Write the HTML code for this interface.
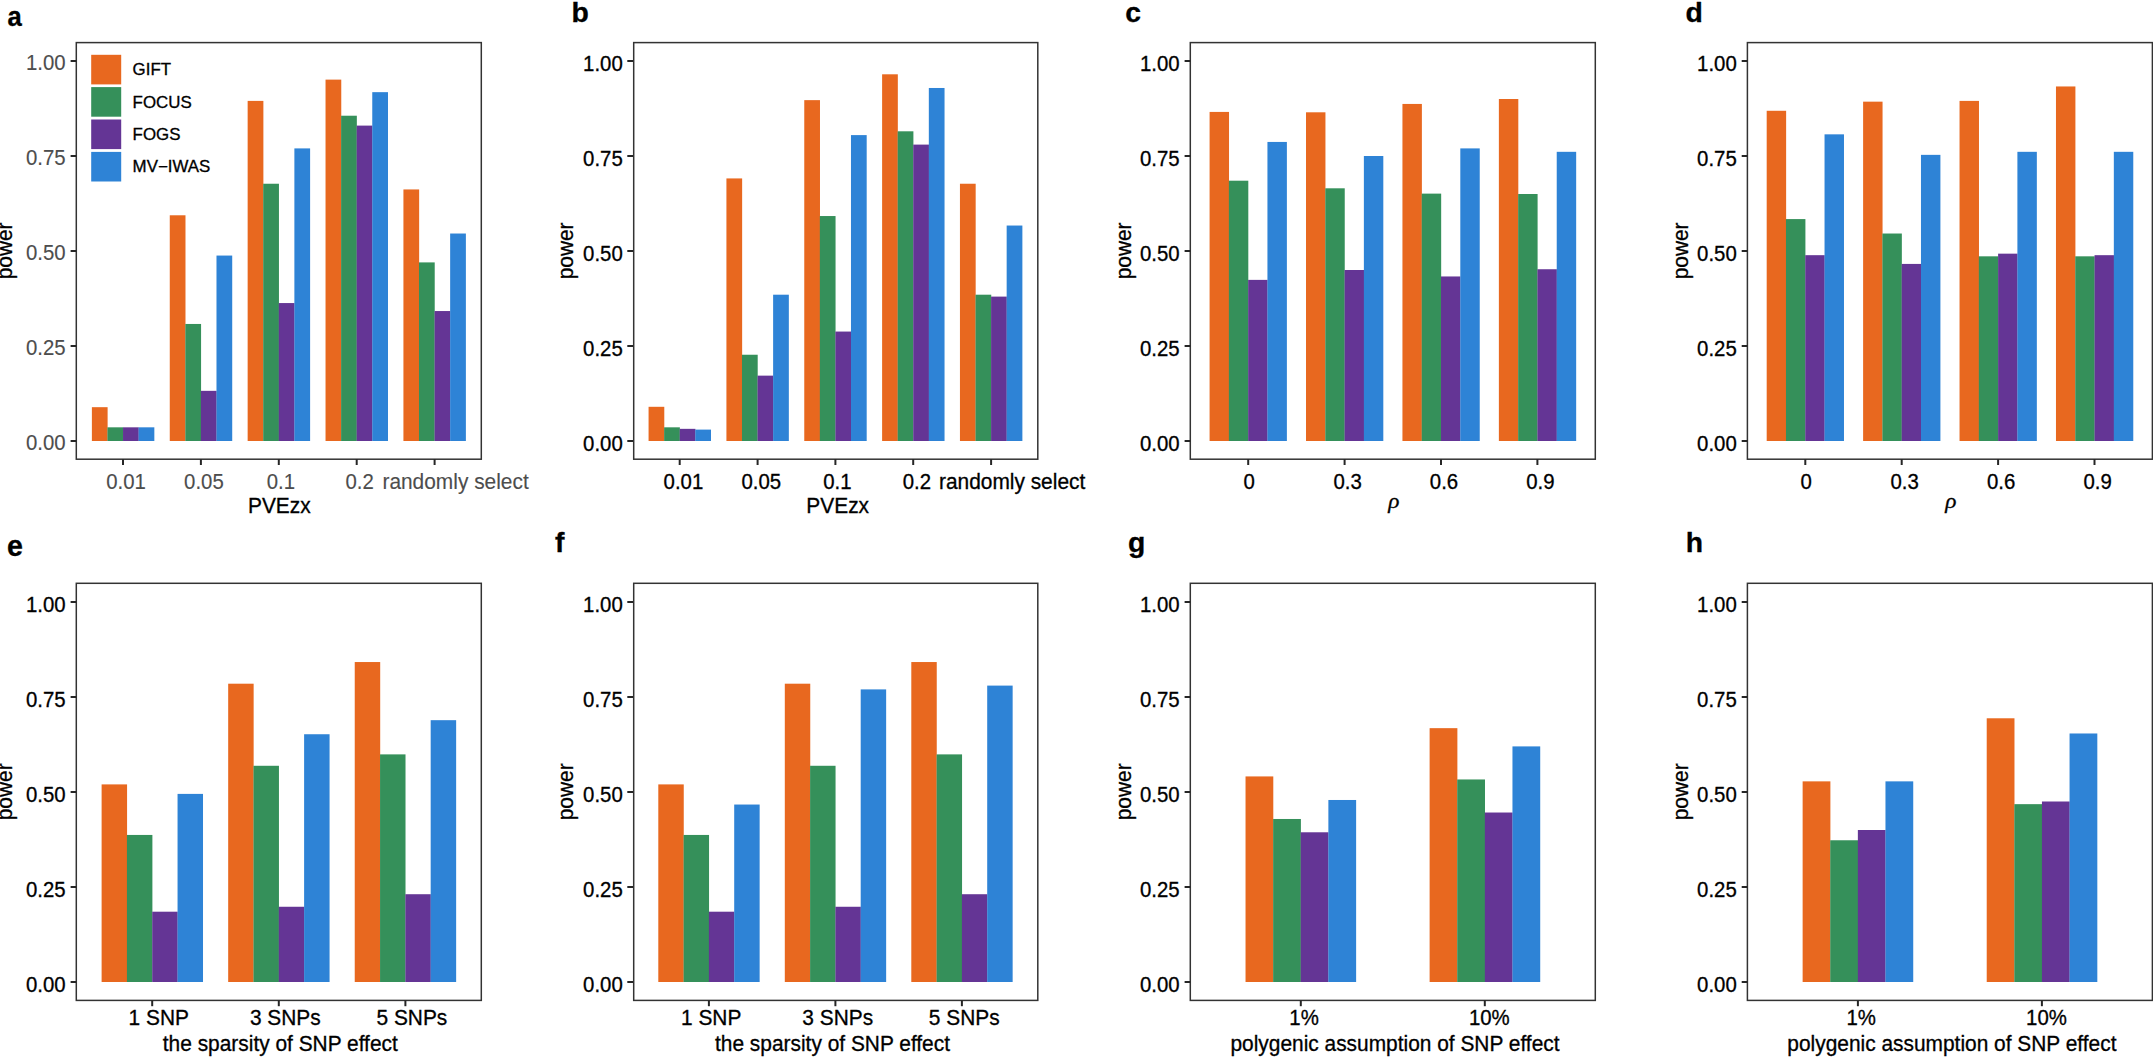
<!DOCTYPE html>
<html lang="en"><head><meta charset="utf-8"><title>Power comparison</title>
<style>html,body{margin:0;padding:0;background:#fff}svg{display:block}</style></head>
<body>
<svg width="2153" height="1057" viewBox="0 0 2153 1057" font-family="'Liberation Sans', sans-serif">
<rect width="2153" height="1057" fill="#fff"/>
<g id="panel-a">
<rect x="91.88" y="407.18" width="15.73" height="33.82" fill="#E8681F"/>
<rect x="107.45" y="427.32" width="15.73" height="13.68" fill="#35905A"/>
<rect x="123.03" y="427.32" width="15.73" height="13.68" fill="#643595"/>
<rect x="138.61" y="427.32" width="15.73" height="13.68" fill="#2E83D6"/>
<rect x="169.76" y="215.28" width="15.73" height="225.72" fill="#E8681F"/>
<rect x="185.34" y="323.96" width="15.73" height="117.04" fill="#35905A"/>
<rect x="200.92" y="390.84" width="15.73" height="50.16" fill="#643595"/>
<rect x="216.49" y="255.56" width="15.73" height="185.44" fill="#2E83D6"/>
<rect x="247.65" y="100.90" width="15.73" height="340.10" fill="#E8681F"/>
<rect x="263.22" y="183.74" width="15.73" height="257.26" fill="#35905A"/>
<rect x="278.80" y="303.06" width="15.73" height="137.94" fill="#643595"/>
<rect x="294.38" y="148.40" width="15.73" height="292.60" fill="#2E83D6"/>
<rect x="325.53" y="79.62" width="15.73" height="361.38" fill="#E8681F"/>
<rect x="341.11" y="115.72" width="15.73" height="325.28" fill="#35905A"/>
<rect x="356.68" y="125.60" width="15.73" height="315.40" fill="#643595"/>
<rect x="372.26" y="92.16" width="15.73" height="348.84" fill="#2E83D6"/>
<rect x="403.42" y="189.44" width="15.73" height="251.56" fill="#E8681F"/>
<rect x="418.99" y="262.40" width="15.73" height="178.60" fill="#35905A"/>
<rect x="434.57" y="311.04" width="15.73" height="129.96" fill="#643595"/>
<rect x="450.15" y="233.52" width="15.73" height="207.48" fill="#2E83D6"/>
<rect x="76.3" y="42.6" width="405.0" height="416.6" fill="none" stroke="#333" stroke-width="1.5"/>
<line x1="70.6" x2="76.3" y1="441.0" y2="441.0" stroke="#262626" stroke-width="2"/>
<text transform="translate(65.70,450.10) scale(0.9530,1.0000)" font-size="21.4" text-anchor="end" fill="#4d4d4d" stroke="#4d4d4d" stroke-width="0.12">0.00</text>
<line x1="70.6" x2="76.3" y1="346.0" y2="346.0" stroke="#262626" stroke-width="2"/>
<text transform="translate(65.70,355.10) scale(0.9530,1.0000)" font-size="21.4" text-anchor="end" fill="#4d4d4d" stroke="#4d4d4d" stroke-width="0.12">0.25</text>
<line x1="70.6" x2="76.3" y1="251.0" y2="251.0" stroke="#262626" stroke-width="2"/>
<text transform="translate(65.70,260.10) scale(0.9530,1.0000)" font-size="21.4" text-anchor="end" fill="#4d4d4d" stroke="#4d4d4d" stroke-width="0.12">0.50</text>
<line x1="70.6" x2="76.3" y1="156.0" y2="156.0" stroke="#262626" stroke-width="2"/>
<text transform="translate(65.70,165.10) scale(0.9530,1.0000)" font-size="21.4" text-anchor="end" fill="#4d4d4d" stroke="#4d4d4d" stroke-width="0.12">0.75</text>
<line x1="70.6" x2="76.3" y1="61.0" y2="61.0" stroke="#262626" stroke-width="2"/>
<text transform="translate(65.70,70.10) scale(0.9530,1.0000)" font-size="21.4" text-anchor="end" fill="#4d4d4d" stroke="#4d4d4d" stroke-width="0.12">1.00</text>
<line x1="123.0" x2="123.0" y1="459.2" y2="465.0" stroke="#262626" stroke-width="2"/>
<text transform="translate(126.03,489.10) scale(0.9530,1.0000)" font-size="21.4" text-anchor="middle" fill="#4d4d4d" stroke="#4d4d4d" stroke-width="0.12">0.01</text>
<line x1="200.9" x2="200.9" y1="459.2" y2="465.0" stroke="#262626" stroke-width="2"/>
<text transform="translate(203.92,489.10) scale(0.9530,1.0000)" font-size="21.4" text-anchor="middle" fill="#4d4d4d" stroke="#4d4d4d" stroke-width="0.12">0.05</text>
<line x1="278.8" x2="278.8" y1="459.2" y2="465.0" stroke="#262626" stroke-width="2"/>
<text transform="translate(280.80,489.10) scale(0.9530,1.0000)" font-size="21.4" text-anchor="middle" fill="#4d4d4d" stroke="#4d4d4d" stroke-width="0.12">0.1</text>
<line x1="356.7" x2="356.7" y1="459.2" y2="465.0" stroke="#262626" stroke-width="2"/>
<text transform="translate(359.68,489.10) scale(0.9530,1.0000)" font-size="21.4" text-anchor="middle" fill="#4d4d4d" stroke="#4d4d4d" stroke-width="0.12">0.2</text>
<line x1="434.6" x2="434.6" y1="459.2" y2="465.0" stroke="#262626" stroke-width="2"/>
<text transform="translate(455.57,489.10) scale(0.9770,1.0000)" font-size="21.4" text-anchor="middle" fill="#4d4d4d" stroke="#4d4d4d" stroke-width="0.12">randomly select</text>
<text transform="translate(279.30,512.60) scale(0.9770,1.0000)" font-size="21.4" text-anchor="middle" fill="#000" stroke="#000" stroke-width="0.3">PVEzx</text>
<text transform="translate(12.10,250.90) rotate(-90) scale(0.9770,1.0000)" font-size="21.4" text-anchor="middle" fill="#000" stroke="#000" stroke-width="0.3">power</text>
<text transform="translate(7.40,26.00) scale(0.9500,1.0300)" font-size="27" text-anchor="start" fill="#000" stroke="#000" stroke-width="0.3" font-weight="bold">a</text>
</g>
<g id="panel-b">
<rect x="648.57" y="406.80" width="15.72" height="34.20" fill="#E8681F"/>
<rect x="664.14" y="427.32" width="15.72" height="13.68" fill="#35905A"/>
<rect x="679.71" y="428.84" width="15.72" height="12.16" fill="#643595"/>
<rect x="695.28" y="429.60" width="15.72" height="11.40" fill="#2E83D6"/>
<rect x="726.42" y="178.42" width="15.72" height="262.58" fill="#E8681F"/>
<rect x="741.98" y="354.74" width="15.72" height="86.26" fill="#35905A"/>
<rect x="757.55" y="375.64" width="15.72" height="65.36" fill="#643595"/>
<rect x="773.12" y="294.70" width="15.72" height="146.30" fill="#2E83D6"/>
<rect x="804.26" y="100.14" width="15.72" height="340.86" fill="#E8681F"/>
<rect x="819.83" y="216.04" width="15.72" height="224.96" fill="#35905A"/>
<rect x="835.40" y="331.56" width="15.72" height="109.44" fill="#643595"/>
<rect x="850.97" y="135.10" width="15.72" height="305.90" fill="#2E83D6"/>
<rect x="882.11" y="74.30" width="15.72" height="366.70" fill="#E8681F"/>
<rect x="897.68" y="131.30" width="15.72" height="309.70" fill="#35905A"/>
<rect x="913.25" y="144.60" width="15.72" height="296.40" fill="#643595"/>
<rect x="928.82" y="87.98" width="15.72" height="353.02" fill="#2E83D6"/>
<rect x="959.95" y="183.74" width="15.72" height="257.26" fill="#E8681F"/>
<rect x="975.52" y="294.70" width="15.72" height="146.30" fill="#35905A"/>
<rect x="991.09" y="296.60" width="15.72" height="144.40" fill="#643595"/>
<rect x="1006.66" y="225.54" width="15.72" height="215.46" fill="#2E83D6"/>
<rect x="633.7" y="42.6" width="404.1" height="416.6" fill="none" stroke="#333" stroke-width="1.5"/>
<line x1="627.3" x2="633.0" y1="441.0" y2="441.0" stroke="#262626" stroke-width="2"/>
<text transform="translate(622.80,450.50) scale(0.9530,1.0000)" font-size="21.4" text-anchor="end" fill="#000" stroke="#000" stroke-width="0.3">0.00</text>
<line x1="627.3" x2="633.0" y1="346.0" y2="346.0" stroke="#262626" stroke-width="2"/>
<text transform="translate(622.80,355.50) scale(0.9530,1.0000)" font-size="21.4" text-anchor="end" fill="#000" stroke="#000" stroke-width="0.3">0.25</text>
<line x1="627.3" x2="633.0" y1="251.0" y2="251.0" stroke="#262626" stroke-width="2"/>
<text transform="translate(622.80,260.50) scale(0.9530,1.0000)" font-size="21.4" text-anchor="end" fill="#000" stroke="#000" stroke-width="0.3">0.50</text>
<line x1="627.3" x2="633.0" y1="156.0" y2="156.0" stroke="#262626" stroke-width="2"/>
<text transform="translate(622.80,165.50) scale(0.9530,1.0000)" font-size="21.4" text-anchor="end" fill="#000" stroke="#000" stroke-width="0.3">0.75</text>
<line x1="627.3" x2="633.0" y1="61.0" y2="61.0" stroke="#262626" stroke-width="2"/>
<text transform="translate(622.80,70.50) scale(0.9530,1.0000)" font-size="21.4" text-anchor="end" fill="#000" stroke="#000" stroke-width="0.3">1.00</text>
<line x1="679.7" x2="679.7" y1="459.2" y2="465.0" stroke="#262626" stroke-width="2"/>
<text transform="translate(683.41,489.10) scale(0.9530,1.0000)" font-size="21.4" text-anchor="middle" fill="#000" stroke="#000" stroke-width="0.3">0.01</text>
<line x1="757.6" x2="757.6" y1="459.2" y2="465.0" stroke="#262626" stroke-width="2"/>
<text transform="translate(761.25,489.10) scale(0.9530,1.0000)" font-size="21.4" text-anchor="middle" fill="#000" stroke="#000" stroke-width="0.3">0.05</text>
<line x1="835.4" x2="835.4" y1="459.2" y2="465.0" stroke="#262626" stroke-width="2"/>
<text transform="translate(837.40,489.10) scale(0.9530,1.0000)" font-size="21.4" text-anchor="middle" fill="#000" stroke="#000" stroke-width="0.3">0.1</text>
<line x1="913.2" x2="913.2" y1="459.2" y2="465.0" stroke="#262626" stroke-width="2"/>
<text transform="translate(916.95,489.10) scale(0.9530,1.0000)" font-size="21.4" text-anchor="middle" fill="#000" stroke="#000" stroke-width="0.3">0.2</text>
<line x1="991.1" x2="991.1" y1="459.2" y2="465.0" stroke="#262626" stroke-width="2"/>
<text transform="translate(1012.09,489.10) scale(0.9770,1.0000)" font-size="21.4" text-anchor="middle" fill="#000" stroke="#000" stroke-width="0.3">randomly select</text>
<text transform="translate(837.70,513.30) scale(0.9770,1.0000)" font-size="21.4" text-anchor="middle" fill="#000" stroke="#000" stroke-width="0.3">PVEzx</text>
<text transform="translate(573.10,250.90) rotate(-90) scale(0.9770,1.0000)" font-size="21.4" text-anchor="middle" fill="#000" stroke="#000" stroke-width="0.3">power</text>
<text transform="translate(571.50,21.70) scale(1.0500,1.0400)" font-size="27" text-anchor="start" fill="#000" stroke="#000" stroke-width="0.3" font-weight="bold">b</text>
</g>
<g id="panel-c">
<rect x="1209.59" y="111.92" width="19.44" height="329.08" fill="#E8681F"/>
<rect x="1228.87" y="180.70" width="19.44" height="260.30" fill="#35905A"/>
<rect x="1248.16" y="279.88" width="19.44" height="161.12" fill="#643595"/>
<rect x="1267.44" y="141.94" width="19.44" height="299.06" fill="#2E83D6"/>
<rect x="1306.01" y="112.30" width="19.44" height="328.70" fill="#E8681F"/>
<rect x="1325.30" y="188.30" width="19.44" height="252.70" fill="#35905A"/>
<rect x="1344.59" y="270.00" width="19.44" height="171.00" fill="#643595"/>
<rect x="1363.87" y="156.00" width="19.44" height="285.00" fill="#2E83D6"/>
<rect x="1402.44" y="103.94" width="19.44" height="337.06" fill="#E8681F"/>
<rect x="1421.73" y="193.62" width="19.44" height="247.38" fill="#35905A"/>
<rect x="1441.01" y="276.46" width="19.44" height="164.54" fill="#643595"/>
<rect x="1460.30" y="148.40" width="19.44" height="292.60" fill="#2E83D6"/>
<rect x="1498.87" y="99.00" width="19.44" height="342.00" fill="#E8681F"/>
<rect x="1518.16" y="194.00" width="19.44" height="247.00" fill="#35905A"/>
<rect x="1537.44" y="269.24" width="19.44" height="171.76" fill="#643595"/>
<rect x="1556.73" y="151.82" width="19.44" height="289.18" fill="#2E83D6"/>
<rect x="1190.3" y="42.6" width="405.0" height="416.6" fill="none" stroke="#333" stroke-width="1.5"/>
<line x1="1184.6" x2="1190.3" y1="441.0" y2="441.0" stroke="#262626" stroke-width="2"/>
<text transform="translate(1179.70,450.50) scale(0.9530,1.0000)" font-size="21.4" text-anchor="end" fill="#000" stroke="#000" stroke-width="0.3">0.00</text>
<line x1="1184.6" x2="1190.3" y1="346.0" y2="346.0" stroke="#262626" stroke-width="2"/>
<text transform="translate(1179.70,355.50) scale(0.9530,1.0000)" font-size="21.4" text-anchor="end" fill="#000" stroke="#000" stroke-width="0.3">0.25</text>
<line x1="1184.6" x2="1190.3" y1="251.0" y2="251.0" stroke="#262626" stroke-width="2"/>
<text transform="translate(1179.70,260.50) scale(0.9530,1.0000)" font-size="21.4" text-anchor="end" fill="#000" stroke="#000" stroke-width="0.3">0.50</text>
<line x1="1184.6" x2="1190.3" y1="156.0" y2="156.0" stroke="#262626" stroke-width="2"/>
<text transform="translate(1179.70,165.50) scale(0.9530,1.0000)" font-size="21.4" text-anchor="end" fill="#000" stroke="#000" stroke-width="0.3">0.75</text>
<line x1="1184.6" x2="1190.3" y1="61.0" y2="61.0" stroke="#262626" stroke-width="2"/>
<text transform="translate(1179.70,70.50) scale(0.9530,1.0000)" font-size="21.4" text-anchor="end" fill="#000" stroke="#000" stroke-width="0.3">1.00</text>
<line x1="1248.2" x2="1248.2" y1="459.2" y2="465.0" stroke="#262626" stroke-width="2"/>
<text transform="translate(1249.16,489.10) scale(0.9530,1.0000)" font-size="21.4" text-anchor="middle" fill="#000" stroke="#000" stroke-width="0.3">0</text>
<line x1="1344.6" x2="1344.6" y1="459.2" y2="465.0" stroke="#262626" stroke-width="2"/>
<text transform="translate(1347.59,489.10) scale(0.9530,1.0000)" font-size="21.4" text-anchor="middle" fill="#000" stroke="#000" stroke-width="0.3">0.3</text>
<line x1="1441.0" x2="1441.0" y1="459.2" y2="465.0" stroke="#262626" stroke-width="2"/>
<text transform="translate(1444.01,489.10) scale(0.9530,1.0000)" font-size="21.4" text-anchor="middle" fill="#000" stroke="#000" stroke-width="0.3">0.6</text>
<line x1="1537.4" x2="1537.4" y1="459.2" y2="465.0" stroke="#262626" stroke-width="2"/>
<text transform="translate(1540.44,489.10) scale(0.9530,1.0000)" font-size="21.4" text-anchor="middle" fill="#000" stroke="#000" stroke-width="0.3">0.9</text>
<text transform="translate(1393.80,508.30) scale(1.0900,0.9770)" font-size="21.4" text-anchor="middle" fill="#000" stroke="#000" stroke-width="0.3" font-style="italic" font-family="'Liberation Serif', serif">ρ</text>
<text transform="translate(1131.10,250.90) rotate(-90) scale(0.9770,1.0000)" font-size="21.4" text-anchor="middle" fill="#000" stroke="#000" stroke-width="0.3">power</text>
<text transform="translate(1125.30,21.70) scale(1.0500,1.0400)" font-size="27" text-anchor="start" fill="#000" stroke="#000" stroke-width="0.3" font-weight="bold">c</text>
</g>
<g id="panel-d">
<rect x="1766.69" y="110.78" width="19.44" height="330.22" fill="#E8681F"/>
<rect x="1785.97" y="219.08" width="19.44" height="221.92" fill="#35905A"/>
<rect x="1805.26" y="255.18" width="19.44" height="185.82" fill="#643595"/>
<rect x="1824.54" y="134.34" width="19.44" height="306.66" fill="#2E83D6"/>
<rect x="1863.11" y="101.66" width="19.44" height="339.34" fill="#E8681F"/>
<rect x="1882.40" y="233.52" width="19.44" height="207.48" fill="#35905A"/>
<rect x="1901.69" y="263.92" width="19.44" height="177.08" fill="#643595"/>
<rect x="1920.97" y="154.86" width="19.44" height="286.14" fill="#2E83D6"/>
<rect x="1959.54" y="100.90" width="19.44" height="340.10" fill="#E8681F"/>
<rect x="1978.83" y="256.32" width="19.44" height="184.68" fill="#35905A"/>
<rect x="1998.11" y="253.66" width="19.44" height="187.34" fill="#643595"/>
<rect x="2017.40" y="151.82" width="19.44" height="289.18" fill="#2E83D6"/>
<rect x="2055.97" y="86.46" width="19.44" height="354.54" fill="#E8681F"/>
<rect x="2075.26" y="256.32" width="19.44" height="184.68" fill="#35905A"/>
<rect x="2094.54" y="255.18" width="19.44" height="185.82" fill="#643595"/>
<rect x="2113.83" y="151.82" width="19.44" height="289.18" fill="#2E83D6"/>
<rect x="1747.4" y="42.6" width="405.0" height="416.6" fill="none" stroke="#333" stroke-width="1.5"/>
<line x1="1741.7" x2="1747.4" y1="441.0" y2="441.0" stroke="#262626" stroke-width="2"/>
<text transform="translate(1736.80,450.50) scale(0.9530,1.0000)" font-size="21.4" text-anchor="end" fill="#000" stroke="#000" stroke-width="0.3">0.00</text>
<line x1="1741.7" x2="1747.4" y1="346.0" y2="346.0" stroke="#262626" stroke-width="2"/>
<text transform="translate(1736.80,355.50) scale(0.9530,1.0000)" font-size="21.4" text-anchor="end" fill="#000" stroke="#000" stroke-width="0.3">0.25</text>
<line x1="1741.7" x2="1747.4" y1="251.0" y2="251.0" stroke="#262626" stroke-width="2"/>
<text transform="translate(1736.80,260.50) scale(0.9530,1.0000)" font-size="21.4" text-anchor="end" fill="#000" stroke="#000" stroke-width="0.3">0.50</text>
<line x1="1741.7" x2="1747.4" y1="156.0" y2="156.0" stroke="#262626" stroke-width="2"/>
<text transform="translate(1736.80,165.50) scale(0.9530,1.0000)" font-size="21.4" text-anchor="end" fill="#000" stroke="#000" stroke-width="0.3">0.75</text>
<line x1="1741.7" x2="1747.4" y1="61.0" y2="61.0" stroke="#262626" stroke-width="2"/>
<text transform="translate(1736.80,70.50) scale(0.9530,1.0000)" font-size="21.4" text-anchor="end" fill="#000" stroke="#000" stroke-width="0.3">1.00</text>
<line x1="1805.3" x2="1805.3" y1="459.2" y2="465.0" stroke="#262626" stroke-width="2"/>
<text transform="translate(1806.26,489.10) scale(0.9530,1.0000)" font-size="21.4" text-anchor="middle" fill="#000" stroke="#000" stroke-width="0.3">0</text>
<line x1="1901.7" x2="1901.7" y1="459.2" y2="465.0" stroke="#262626" stroke-width="2"/>
<text transform="translate(1904.69,489.10) scale(0.9530,1.0000)" font-size="21.4" text-anchor="middle" fill="#000" stroke="#000" stroke-width="0.3">0.3</text>
<line x1="1998.1" x2="1998.1" y1="459.2" y2="465.0" stroke="#262626" stroke-width="2"/>
<text transform="translate(2001.11,489.10) scale(0.9530,1.0000)" font-size="21.4" text-anchor="middle" fill="#000" stroke="#000" stroke-width="0.3">0.6</text>
<line x1="2094.5" x2="2094.5" y1="459.2" y2="465.0" stroke="#262626" stroke-width="2"/>
<text transform="translate(2097.54,489.10) scale(0.9530,1.0000)" font-size="21.4" text-anchor="middle" fill="#000" stroke="#000" stroke-width="0.3">0.9</text>
<text transform="translate(1950.90,508.30) scale(1.0900,0.9770)" font-size="21.4" text-anchor="middle" fill="#000" stroke="#000" stroke-width="0.3" font-style="italic" font-family="'Liberation Serif', serif">ρ</text>
<text transform="translate(1688.20,250.90) rotate(-90) scale(0.9770,1.0000)" font-size="21.4" text-anchor="middle" fill="#000" stroke="#000" stroke-width="0.3">power</text>
<text transform="translate(1685.50,21.70) scale(1.0500,1.0400)" font-size="27" text-anchor="start" fill="#000" stroke="#000" stroke-width="0.3" font-weight="bold">d</text>
</g>
<g id="panel-e">
<rect x="101.61" y="784.40" width="25.46" height="197.60" fill="#E8681F"/>
<rect x="126.93" y="834.94" width="25.46" height="147.06" fill="#35905A"/>
<rect x="152.24" y="911.70" width="25.46" height="70.30" fill="#643595"/>
<rect x="177.55" y="793.90" width="25.46" height="188.10" fill="#2E83D6"/>
<rect x="228.18" y="683.70" width="25.46" height="298.30" fill="#E8681F"/>
<rect x="253.49" y="765.78" width="25.46" height="216.22" fill="#35905A"/>
<rect x="278.80" y="906.76" width="25.46" height="75.24" fill="#643595"/>
<rect x="304.11" y="734.24" width="25.46" height="247.76" fill="#2E83D6"/>
<rect x="354.74" y="662.04" width="25.46" height="319.96" fill="#E8681F"/>
<rect x="380.05" y="754.38" width="25.46" height="227.62" fill="#35905A"/>
<rect x="405.36" y="894.22" width="25.46" height="87.78" fill="#643595"/>
<rect x="430.68" y="720.18" width="25.46" height="261.82" fill="#2E83D6"/>
<rect x="76.3" y="583.3" width="405.0" height="417.1" fill="none" stroke="#333" stroke-width="1.5"/>
<line x1="70.6" x2="76.3" y1="982.0" y2="982.0" stroke="#262626" stroke-width="2"/>
<text transform="translate(65.70,991.50) scale(0.9530,1.0000)" font-size="21.4" text-anchor="end" fill="#000" stroke="#000" stroke-width="0.3">0.00</text>
<line x1="70.6" x2="76.3" y1="887.0" y2="887.0" stroke="#262626" stroke-width="2"/>
<text transform="translate(65.70,896.50) scale(0.9530,1.0000)" font-size="21.4" text-anchor="end" fill="#000" stroke="#000" stroke-width="0.3">0.25</text>
<line x1="70.6" x2="76.3" y1="792.0" y2="792.0" stroke="#262626" stroke-width="2"/>
<text transform="translate(65.70,801.50) scale(0.9530,1.0000)" font-size="21.4" text-anchor="end" fill="#000" stroke="#000" stroke-width="0.3">0.50</text>
<line x1="70.6" x2="76.3" y1="697.0" y2="697.0" stroke="#262626" stroke-width="2"/>
<text transform="translate(65.70,706.50) scale(0.9530,1.0000)" font-size="21.4" text-anchor="end" fill="#000" stroke="#000" stroke-width="0.3">0.75</text>
<line x1="70.6" x2="76.3" y1="602.0" y2="602.0" stroke="#262626" stroke-width="2"/>
<text transform="translate(65.70,611.50) scale(0.9530,1.0000)" font-size="21.4" text-anchor="end" fill="#000" stroke="#000" stroke-width="0.3">1.00</text>
<line x1="152.2" x2="152.2" y1="1000.4" y2="1006.2" stroke="#262626" stroke-width="2"/>
<text transform="translate(158.74,1025.40) scale(0.9770,1.0000)" font-size="21.4" text-anchor="middle" fill="#000" stroke="#000" stroke-width="0.3">1 SNP</text>
<line x1="278.8" x2="278.8" y1="1000.4" y2="1006.2" stroke="#262626" stroke-width="2"/>
<text transform="translate(285.30,1025.40) scale(0.9770,1.0000)" font-size="21.4" text-anchor="middle" fill="#000" stroke="#000" stroke-width="0.3">3 SNPs</text>
<line x1="405.4" x2="405.4" y1="1000.4" y2="1006.2" stroke="#262626" stroke-width="2"/>
<text transform="translate(411.86,1025.40) scale(0.9770,1.0000)" font-size="21.4" text-anchor="middle" fill="#000" stroke="#000" stroke-width="0.3">5 SNPs</text>
<text transform="translate(280.30,1050.50) scale(0.9770,1.0000)" font-size="21.4" text-anchor="middle" fill="#000" stroke="#000" stroke-width="0.3">the sparsity of SNP effect</text>
<text transform="translate(12.10,791.85) rotate(-90) scale(0.9770,1.0000)" font-size="21.4" text-anchor="middle" fill="#000" stroke="#000" stroke-width="0.3">power</text>
<text transform="translate(7.00,556.30) scale(1.0600,1.0600)" font-size="27" text-anchor="start" fill="#000" stroke="#000" stroke-width="0.3" font-weight="bold">e</text>
</g>
<g id="panel-f">
<rect x="658.30" y="784.40" width="25.45" height="197.60" fill="#E8681F"/>
<rect x="683.60" y="834.94" width="25.45" height="147.06" fill="#35905A"/>
<rect x="708.90" y="911.70" width="25.45" height="70.30" fill="#643595"/>
<rect x="734.20" y="804.54" width="25.45" height="177.46" fill="#2E83D6"/>
<rect x="784.80" y="683.70" width="25.45" height="298.30" fill="#E8681F"/>
<rect x="810.10" y="765.78" width="25.45" height="216.22" fill="#35905A"/>
<rect x="835.40" y="906.76" width="25.45" height="75.24" fill="#643595"/>
<rect x="860.70" y="689.40" width="25.45" height="292.60" fill="#2E83D6"/>
<rect x="911.30" y="662.04" width="25.45" height="319.96" fill="#E8681F"/>
<rect x="936.60" y="754.38" width="25.45" height="227.62" fill="#35905A"/>
<rect x="961.90" y="894.22" width="25.45" height="87.78" fill="#643595"/>
<rect x="987.20" y="685.60" width="25.45" height="296.40" fill="#2E83D6"/>
<rect x="633.7" y="583.3" width="404.1" height="417.1" fill="none" stroke="#333" stroke-width="1.5"/>
<line x1="627.3" x2="633.0" y1="982.0" y2="982.0" stroke="#262626" stroke-width="2"/>
<text transform="translate(622.80,991.50) scale(0.9530,1.0000)" font-size="21.4" text-anchor="end" fill="#000" stroke="#000" stroke-width="0.3">0.00</text>
<line x1="627.3" x2="633.0" y1="887.0" y2="887.0" stroke="#262626" stroke-width="2"/>
<text transform="translate(622.80,896.50) scale(0.9530,1.0000)" font-size="21.4" text-anchor="end" fill="#000" stroke="#000" stroke-width="0.3">0.25</text>
<line x1="627.3" x2="633.0" y1="792.0" y2="792.0" stroke="#262626" stroke-width="2"/>
<text transform="translate(622.80,801.50) scale(0.9530,1.0000)" font-size="21.4" text-anchor="end" fill="#000" stroke="#000" stroke-width="0.3">0.50</text>
<line x1="627.3" x2="633.0" y1="697.0" y2="697.0" stroke="#262626" stroke-width="2"/>
<text transform="translate(622.80,706.50) scale(0.9530,1.0000)" font-size="21.4" text-anchor="end" fill="#000" stroke="#000" stroke-width="0.3">0.75</text>
<line x1="627.3" x2="633.0" y1="602.0" y2="602.0" stroke="#262626" stroke-width="2"/>
<text transform="translate(622.80,611.50) scale(0.9530,1.0000)" font-size="21.4" text-anchor="end" fill="#000" stroke="#000" stroke-width="0.3">1.00</text>
<line x1="708.9" x2="708.9" y1="1000.4" y2="1006.2" stroke="#262626" stroke-width="2"/>
<text transform="translate(711.20,1025.40) scale(0.9770,1.0000)" font-size="21.4" text-anchor="middle" fill="#000" stroke="#000" stroke-width="0.3">1 SNP</text>
<line x1="835.4" x2="835.4" y1="1000.4" y2="1006.2" stroke="#262626" stroke-width="2"/>
<text transform="translate(837.70,1025.40) scale(0.9770,1.0000)" font-size="21.4" text-anchor="middle" fill="#000" stroke="#000" stroke-width="0.3">3 SNPs</text>
<line x1="961.9" x2="961.9" y1="1000.4" y2="1006.2" stroke="#262626" stroke-width="2"/>
<text transform="translate(964.20,1025.40) scale(0.9770,1.0000)" font-size="21.4" text-anchor="middle" fill="#000" stroke="#000" stroke-width="0.3">5 SNPs</text>
<text transform="translate(832.50,1050.50) scale(0.9770,1.0000)" font-size="21.4" text-anchor="middle" fill="#000" stroke="#000" stroke-width="0.3">the sparsity of SNP effect</text>
<text transform="translate(573.10,791.85) rotate(-90) scale(0.9770,1.0000)" font-size="21.4" text-anchor="middle" fill="#000" stroke="#000" stroke-width="0.3">power</text>
<text transform="translate(555.00,551.90) scale(1.0500,1.0200)" font-size="27" text-anchor="start" fill="#000" stroke="#000" stroke-width="0.3" font-weight="bold">f</text>
</g>
<g id="panel-g">
<rect x="1245.53" y="776.42" width="27.76" height="205.58" fill="#E8681F"/>
<rect x="1273.14" y="818.98" width="27.76" height="163.02" fill="#35905A"/>
<rect x="1300.75" y="832.28" width="27.76" height="149.72" fill="#643595"/>
<rect x="1328.37" y="799.98" width="27.76" height="182.02" fill="#2E83D6"/>
<rect x="1429.62" y="728.16" width="27.76" height="253.84" fill="#E8681F"/>
<rect x="1457.23" y="779.46" width="27.76" height="202.54" fill="#35905A"/>
<rect x="1484.85" y="812.52" width="27.76" height="169.48" fill="#643595"/>
<rect x="1512.46" y="746.40" width="27.76" height="235.60" fill="#2E83D6"/>
<rect x="1190.3" y="583.3" width="405.0" height="417.1" fill="none" stroke="#333" stroke-width="1.5"/>
<line x1="1184.6" x2="1190.3" y1="982.0" y2="982.0" stroke="#262626" stroke-width="2"/>
<text transform="translate(1179.70,991.50) scale(0.9530,1.0000)" font-size="21.4" text-anchor="end" fill="#000" stroke="#000" stroke-width="0.3">0.00</text>
<line x1="1184.6" x2="1190.3" y1="887.0" y2="887.0" stroke="#262626" stroke-width="2"/>
<text transform="translate(1179.70,896.50) scale(0.9530,1.0000)" font-size="21.4" text-anchor="end" fill="#000" stroke="#000" stroke-width="0.3">0.25</text>
<line x1="1184.6" x2="1190.3" y1="792.0" y2="792.0" stroke="#262626" stroke-width="2"/>
<text transform="translate(1179.70,801.50) scale(0.9530,1.0000)" font-size="21.4" text-anchor="end" fill="#000" stroke="#000" stroke-width="0.3">0.50</text>
<line x1="1184.6" x2="1190.3" y1="697.0" y2="697.0" stroke="#262626" stroke-width="2"/>
<text transform="translate(1179.70,706.50) scale(0.9530,1.0000)" font-size="21.4" text-anchor="end" fill="#000" stroke="#000" stroke-width="0.3">0.75</text>
<line x1="1184.6" x2="1190.3" y1="602.0" y2="602.0" stroke="#262626" stroke-width="2"/>
<text transform="translate(1179.70,611.50) scale(0.9530,1.0000)" font-size="21.4" text-anchor="end" fill="#000" stroke="#000" stroke-width="0.3">1.00</text>
<line x1="1300.8" x2="1300.8" y1="1000.4" y2="1006.2" stroke="#262626" stroke-width="2"/>
<text transform="translate(1304.05,1025.40) scale(0.9530,1.0000)" font-size="21.4" text-anchor="middle" fill="#000" stroke="#000" stroke-width="0.3">1%</text>
<line x1="1484.8" x2="1484.8" y1="1000.4" y2="1006.2" stroke="#262626" stroke-width="2"/>
<text transform="translate(1489.35,1025.40) scale(0.9530,1.0000)" font-size="21.4" text-anchor="middle" fill="#000" stroke="#000" stroke-width="0.3">10%</text>
<text transform="translate(1395.00,1050.50) scale(0.9770,1.0000)" font-size="21.4" text-anchor="middle" fill="#000" stroke="#000" stroke-width="0.3">polygenic assumption of SNP effect</text>
<text transform="translate(1131.10,791.85) rotate(-90) scale(0.9770,1.0000)" font-size="21.4" text-anchor="middle" fill="#000" stroke="#000" stroke-width="0.3">power</text>
<text transform="translate(1128.00,551.70) scale(1.0500,1.0200)" font-size="27" text-anchor="start" fill="#000" stroke="#000" stroke-width="0.3" font-weight="bold">g</text>
</g>
<g id="panel-h">
<rect x="1802.63" y="781.36" width="27.76" height="200.64" fill="#E8681F"/>
<rect x="1830.24" y="840.26" width="27.76" height="141.74" fill="#35905A"/>
<rect x="1857.85" y="830.00" width="27.76" height="152.00" fill="#643595"/>
<rect x="1885.47" y="781.36" width="27.76" height="200.64" fill="#2E83D6"/>
<rect x="1986.72" y="718.28" width="27.76" height="263.72" fill="#E8681F"/>
<rect x="2014.33" y="804.16" width="27.76" height="177.84" fill="#35905A"/>
<rect x="2041.95" y="801.50" width="27.76" height="180.50" fill="#643595"/>
<rect x="2069.56" y="733.48" width="27.76" height="248.52" fill="#2E83D6"/>
<rect x="1747.4" y="583.3" width="405.0" height="417.1" fill="none" stroke="#333" stroke-width="1.5"/>
<line x1="1741.7" x2="1747.4" y1="982.0" y2="982.0" stroke="#262626" stroke-width="2"/>
<text transform="translate(1736.80,991.50) scale(0.9530,1.0000)" font-size="21.4" text-anchor="end" fill="#000" stroke="#000" stroke-width="0.3">0.00</text>
<line x1="1741.7" x2="1747.4" y1="887.0" y2="887.0" stroke="#262626" stroke-width="2"/>
<text transform="translate(1736.80,896.50) scale(0.9530,1.0000)" font-size="21.4" text-anchor="end" fill="#000" stroke="#000" stroke-width="0.3">0.25</text>
<line x1="1741.7" x2="1747.4" y1="792.0" y2="792.0" stroke="#262626" stroke-width="2"/>
<text transform="translate(1736.80,801.50) scale(0.9530,1.0000)" font-size="21.4" text-anchor="end" fill="#000" stroke="#000" stroke-width="0.3">0.50</text>
<line x1="1741.7" x2="1747.4" y1="697.0" y2="697.0" stroke="#262626" stroke-width="2"/>
<text transform="translate(1736.80,706.50) scale(0.9530,1.0000)" font-size="21.4" text-anchor="end" fill="#000" stroke="#000" stroke-width="0.3">0.75</text>
<line x1="1741.7" x2="1747.4" y1="602.0" y2="602.0" stroke="#262626" stroke-width="2"/>
<text transform="translate(1736.80,611.50) scale(0.9530,1.0000)" font-size="21.4" text-anchor="end" fill="#000" stroke="#000" stroke-width="0.3">1.00</text>
<line x1="1857.9" x2="1857.9" y1="1000.4" y2="1006.2" stroke="#262626" stroke-width="2"/>
<text transform="translate(1861.15,1025.40) scale(0.9530,1.0000)" font-size="21.4" text-anchor="middle" fill="#000" stroke="#000" stroke-width="0.3">1%</text>
<line x1="2041.9" x2="2041.9" y1="1000.4" y2="1006.2" stroke="#262626" stroke-width="2"/>
<text transform="translate(2046.45,1025.40) scale(0.9530,1.0000)" font-size="21.4" text-anchor="middle" fill="#000" stroke="#000" stroke-width="0.3">10%</text>
<text transform="translate(1951.90,1050.50) scale(0.9770,1.0000)" font-size="21.4" text-anchor="middle" fill="#000" stroke="#000" stroke-width="0.3">polygenic assumption of SNP effect</text>
<text transform="translate(1688.20,791.85) rotate(-90) scale(0.9770,1.0000)" font-size="21.4" text-anchor="middle" fill="#000" stroke="#000" stroke-width="0.3">power</text>
<text transform="translate(1685.70,551.90) scale(1.0500,1.0200)" font-size="27" text-anchor="start" fill="#000" stroke="#000" stroke-width="0.3" font-weight="bold">h</text>
</g>
<rect x="91.2" y="54.8" width="30" height="29.6" fill="#E8681F"/>
<text transform="translate(132.60,75.30) scale(1.0550,1.0000)" font-size="16" text-anchor="start" fill="#000" stroke="#000" stroke-width="0.3">GIFT</text>
<rect x="91.2" y="87.1" width="30" height="29.6" fill="#35905A"/>
<text transform="translate(132.60,107.65) scale(1.0550,1.0000)" font-size="16" text-anchor="start" fill="#000" stroke="#000" stroke-width="0.3">FOCUS</text>
<rect x="91.2" y="119.5" width="30" height="29.6" fill="#643595"/>
<text transform="translate(132.60,140.00) scale(1.0550,1.0000)" font-size="16" text-anchor="start" fill="#000" stroke="#000" stroke-width="0.3">FOGS</text>
<rect x="91.2" y="151.9" width="30" height="29.6" fill="#2E83D6"/>
<text transform="translate(132.60,172.35) scale(1.0550,1.0000)" font-size="16" text-anchor="start" fill="#000" stroke="#000" stroke-width="0.3">MV−IWAS</text>
</svg>
</body></html>
